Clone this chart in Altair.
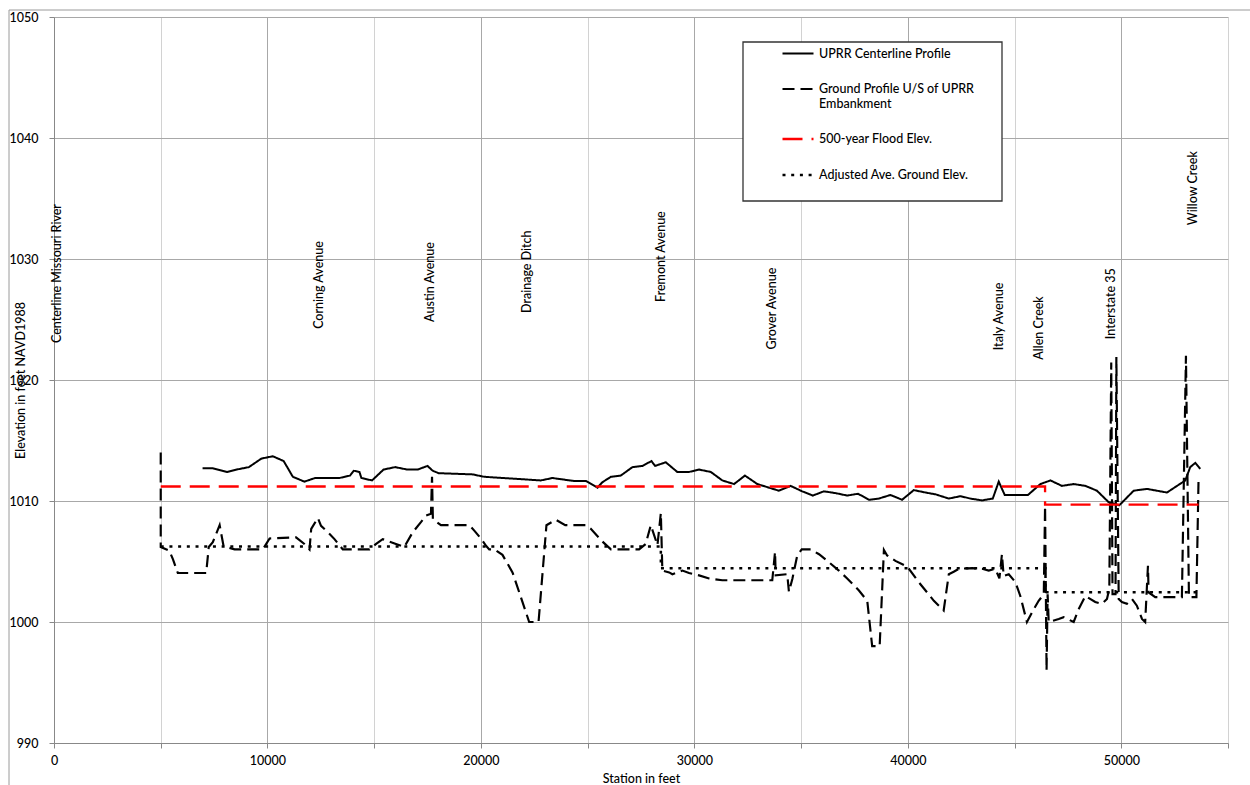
import altair as alt
import pandas as pd

# ---------------- data (station in feet, elevation in feet) ----------------
uprr = [(6960, 1012.7), (7440, 1012.7), (8100, 1012.4), (8560, 1012.6), (9130, 1012.8),
        (9710, 1013.5), (10250, 1013.7), (10760, 1013.3), (11190, 1012.0), (11730, 1011.6),
        (12230, 1011.9), (13370, 1011.9), (13870, 1012.1), (14040, 1012.5), (14310, 1012.4),
        (14400, 1011.9), (14900, 1011.7), (15440, 1012.6), (15990, 1012.8), (16540, 1012.6),
        (17040, 1012.6), (17500, 1012.9), (17740, 1012.5), (18020, 1012.3), (19610, 1012.2),
        (20160, 1012.0), (22810, 1011.7), (23350, 1011.9), (24370, 1011.65), (24920, 1011.65),
        (25460, 1011.1), (25690, 1011.55), (26090, 1012.0), (26550, 1012.1), (27100, 1012.8),
        (27570, 1012.9), (27990, 1013.3), (28160, 1012.9), (28660, 1013.2), (29200, 1012.4),
        (29750, 1012.4), (30220, 1012.6), (30770, 1012.4), (31310, 1011.7), (31860, 1011.4),
        (32370, 1012.1), (32950, 1011.4), (33500, 1011.1), (33960, 1010.85), (34510, 1011.25),
        (35050, 1010.8), (35550, 1010.45), (36070, 1010.8), (36620, 1010.65), (37160, 1010.45),
        (37670, 1010.6), (38180, 1010.1), (38640, 1010.2), (39190, 1010.5), (39730, 1010.1),
        (40280, 1010.9), (40830, 1010.7), (41300, 1010.55), (41920, 1010.2), (42470, 1010.4),
        (42930, 1010.2), (43480, 1010.05), (43980, 1010.2), (44260, 1011.6), (44540, 1010.5),
        (45630, 1010.5), (46210, 1011.4), (46680, 1011.7), (47220, 1011.25), (47770, 1011.4),
        (48320, 1011.25), (48860, 1010.85), (49410, 1009.9), (49910, 1009.65), (50580, 1010.85),
        (51200, 1011.0), (52140, 1010.7), (53000, 1011.7), (53230, 1012.8), (53470, 1013.15),
        (53700, 1012.65)]

ground = [(5000, 1014.0), (5000, 1006.2), (5400, 1005.9), (5570, 1005.2), (5800, 1004.05),
          (7130, 1004.05), (7250, 1006.2), (7440, 1006.6), (7760, 1008.0), (7940, 1006.3),
          (8070, 1006.2), (8460, 1006.0), (9780, 1006.0), (10100, 1006.9), (11340, 1007.0),
          (11730, 1006.45), (11970, 1006.0), (12050, 1007.7), (12360, 1008.6), (12510, 1007.95),
          (12900, 1007.3), (13140, 1006.85), (13530, 1006.0), (14780, 1006.0), (15090, 1006.45),
          (15400, 1006.85), (16020, 1006.45), (16410, 1006.2), (16800, 1007.4), (17190, 1008.25),
          (17430, 1008.8), (17660, 1008.95), (17710, 1012.0), (17750, 1008.5), (18130, 1008.0),
          (19460, 1008.0), (19690, 1007.55), (20000, 1006.9), (20240, 1006.3), (20390, 1006.0),
          (20630, 1006.0), (21010, 1005.55), (21480, 1004.1), (22110, 1000.8), (22260, 1000.0),
          (22700, 1000.0), (23070, 1008.0), (23510, 1008.45), (23950, 1008.0), (24920, 1008.0),
          (25150, 1007.7), (25690, 1006.65), (26090, 1006.0), (27410, 1006.0), (27720, 1006.45),
          (27960, 1008.0), (28270, 1006.35), (28430, 1009.0), (28500, 1004.25), (28820, 1004.1),
          (28970, 1003.95), (29440, 1004.25), (29750, 1004.05), (30220, 1003.85), (30690, 1003.6),
          (31310, 1003.45), (33650, 1003.45), (33780, 1005.8), (33810, 1003.85), (34350, 1003.95),
          (34430, 1002.5), (34590, 1003.55), (34820, 1005.5), (35030, 1006.0), (35450, 1006.0),
          (35840, 1005.6), (36300, 1004.95), (36770, 1004.25), (37160, 1003.6), (37710, 1002.6),
          (38100, 1001.75), (38330, 998.0), (38680, 998.0), (38880, 1005.95), (39030, 1005.5),
          (39420, 1005.05), (39890, 1004.65), (40050, 1004.4), (40510, 1003.3), (40900, 1002.45),
          (41220, 1001.75), (41680, 1000.95), (41920, 1003.95), (42150, 1004.15), (42390, 1004.4),
          (43010, 1004.45), (43480, 1004.4), (43790, 1004.25), (44100, 1004.4), (44290, 1003.6),
          (44410, 1005.6), (44490, 1003.8), (44730, 1003.95), (45040, 1003.3), (45270, 1002.15),
          (45580, 1000.0), (45900, 1001.05), (46130, 1001.75), (46370, 1002.3), (46430, 1009.6),
          (46500, 996.0), (46550, 1002.3), (46600, 1000.0), (47070, 1000.25), (47300, 1000.4),
          (47770, 1000.0), (48000, 1001.05), (48320, 1002.15), (48780, 1001.65), (49090, 1001.5),
          (49330, 1001.9), (49440, 1002.75), (49530, 1021.45), (49590, 1002.3), (49730, 1002.3),
          (49770, 1021.9), (49880, 1001.9), (50030, 1001.65), (50260, 1001.5), (50500, 1001.9),
          (50730, 1001.35), (50970, 1000.25), (51120, 1000.0), (51250, 1004.65), (51280, 1002.45),
          (51590, 1002.05), (52840, 1002.05), (53030, 1022.0), (53170, 1002.05), (53520, 1002.05),
          (53620, 1011.8)]

flood = [(5000, 1011.2), (46430, 1011.2), (46430, 1009.7), (53620, 1009.7)]

adjusted = [(5000, 1006.25), (28430, 1006.25), (28430, 1004.45), (46450, 1004.45),
            (46450, 1002.45), (53580, 1002.45)]

series_names = ["UPRR Centerline Profile",
                "Ground Profile U/S of UPRR Embankment",
                "500-year Flood Elev.",
                "Adjusted Ave. Ground Elev."]

label_names = ["Centerline Missouri River", "Corning Avenue", "Austin Avenue", "Drainage Ditch",
               "Fremont Avenue", "Grover Avenue", "Italy Avenue", "Allen Creek",
               "Interstate 35", "Willow Creek"]
label_station = [150, 12430, 17630, 22170, 28440, 33640, 44260, 46130, 49500, 53380]
label_elev = [1028.8, 1027.85, 1028.1, 1028.95, 1030.2, 1025.9, 1025.25, 1024.3, 1026.3, 1035.85]

x_ticks = list(range(0, 55001, 5000))
y_ticks = list(range(990, 1051, 10))

# ---------------- tables ----------------
rows = []
for name, pts in zip(series_names, [uprr, ground, flood, adjusted]):
    for i, (s, e) in enumerate(pts):
        rows.append({"series": name, "station": s, "elev": e, "i": i})
df = pd.DataFrame(rows)
labels_df = pd.DataFrame({"name": label_names, "station": label_station, "elev": label_elev})

FONT = "Lato"
FS = 12.5
FW = 500

x_scale = alt.Scale(domain=[0, 55000], nice=False, zero=False)
y_scale = alt.Scale(domain=[990, 1050], nice=False, zero=False)

legend_def = dict(
    title=None, orient="none", legendX=689, legendY=20, padding=0,
    symbolOffset=38, rowPadding=12, labelFont=FONT, labelFontSize=FS, labelFontWeight=FW,
    labelColor="#000000", symbolSize=961, symbolType="stroke",
    labelOffset=4, labelLimit=400,
    labelExpr="datum.label == 'Ground Profile U/S of UPRR Embankment' ? "
              "['Ground Profile U/S of UPRR', 'Embankment'] : datum.label",
)

lines = alt.Chart(df).mark_line(clip=True).encode(
    x=alt.X("station:Q", scale=x_scale, title="Station in feet",
            axis=alt.Axis(values=x_ticks,
                          labelExpr="datum.value % 10000 === 0 ? format(datum.value, 'd') : ''",
                          labelFlush=False, labelOverlap=False,
                          gridColor={"condition": {"test": "datum.value % 10000 === 0", "value": "#a8a8a8"},
                                     "value": "#d2d2d2"},
                          tickSize=5, tickColor="#888888", domainColor="#888888",
                          labelFont=FONT, labelFontSize=FS, labelFontWeight=FW,
                          labelColor="#000000", labelPadding=6,
                          titleFont=FONT, titleFontSize=FS, titleFontWeight=FW,
                          titleColor="#000000", titleY=35, titleBaseline="middle")),
    y=alt.Y("elev:Q", scale=y_scale, title="Elevation in feet NAVD1988",
            axis=alt.Axis(values=y_ticks, labelFlush=False, format="d",
                          gridColor="#a8a8a8", tickSize=5, tickColor="#888888",
                          domainColor="#888888", labelFont=FONT, labelFontSize=FS,
                          labelFontWeight=FW, labelColor="#000000", labelPadding=11,
                          titleFont=FONT, titleFontSize=FS, titleFontWeight=FW,
                          titleColor="#000000", titleX=-34, titleY=363, titleAngle=270,
                          titleAlign="center", titleBaseline="middle")),
    color=alt.Color("series:N",
                    scale=alt.Scale(domain=series_names,
                                    range=["#000000", "#000000", "#ff0000", "#000000"]),
                    legend=alt.Legend(**legend_def)),
    strokeDash=alt.StrokeDash("series:N",
                              scale=alt.Scale(domain=series_names,
                                              range=[[1, 0], [12, 6], [20, 9], [3, 5.7]]),
                              legend=alt.Legend(**legend_def)),
    strokeWidth=alt.StrokeWidth("series:N",
                                scale=alt.Scale(domain=series_names, range=[2.0, 2.5, 2.8, 3.2]),
                                legend=alt.Legend(**legend_def)),
    order=alt.Order("i:Q"),
)

text = alt.Chart(labels_df).mark_text(angle=270, align="center", baseline="middle",
                                      font=FONT, fontSize=FS, fontWeight=FW,
                                      color="#000000").encode(
    x=alt.X("station:Q", scale=x_scale),
    y=alt.Y("elev:Q", scale=y_scale),
    text="name:N",
)

one = pd.DataFrame({"k": [0]})
frame = alt.Chart(one).mark_rect(
    fillOpacity=0, stroke="#9a9a9a", strokeWidth=1).encode(
    x=alt.value(-45), x2=alt.value(1250), y=alt.value(-7), y2=alt.value(800))

legend_box = alt.Chart(one).mark_rect(
    fill="#ffffff", stroke="#333333", strokeWidth=1.3).encode(
    x=alt.value(689), x2=alt.value(948), y=alt.value(25), y2=alt.value(184))

chart = alt.layer(frame, legend_box, lines, text).properties(
    width=1174, height=726,
    padding={"left": 54, "top": 17, "right": 22, "bottom": 42},
    autosize=alt.AutoSizeParams(type="none"),
    background="#ffffff",
).configure_view(strokeWidth=0)

chart.save("out.html", embed_options={"renderer": "svg", "actions": False})
